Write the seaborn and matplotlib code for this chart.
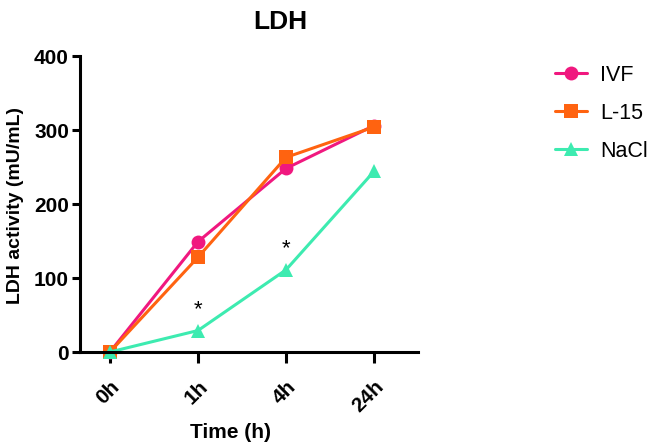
import matplotlib
matplotlib.use("Agg")
import matplotlib.pyplot as plt
import pandas as pd
import seaborn as sns

# Data
times = ["0h", "1h", "4h", "24h"]
ivf = [0, 149, 248, 306]
l15 = [0, 128, 263, 304]
nacl = [0, 29, 111, 244]

groups = ["IVF", "L-15", "NaCl"]
colors = ["#F0187F", "#FF6310", "#3DEBB0"]
markers = ["o", "s", "^"]

# significance marks (time, y)
star_times = ["1h", "4h"]
star_y = [57, 139]

df = pd.DataFrame(
    {
        "time": times * 3,
        "value": ivf + l15 + nacl,
        "group": [g for g in groups for _ in times],
    }
)

sns.set_style("ticks")
plt.rcParams["font.family"] = ["Liberation Sans", "DejaVu Sans"]
plt.rcParams["text.color"] = "black"
plt.rcParams["axes.labelcolor"] = "black"

fig = plt.figure(figsize=(6.57, 4.44), dpi=100)
ax = fig.add_axes([80 / 657, 92 / 444, 338 / 657, 296 / 444])

sns.lineplot(
    data=df,
    x="time",
    y="value",
    hue="group",
    style="group",
    palette=dict(zip(groups, colors)),
    markers=dict(zip(groups, markers)),
    dashes=False,
    markersize=10,
    markeredgewidth=0,
    linewidth=2.2,
    ax=ax,
    clip_on=False,
)

for t, y in zip(star_times, star_y):
    ax.text(times.index(t), y, "*", ha="center", va="center", fontsize=16,
            color="black")

ax.set_xlim(-0.34, 3.5)
ax.set_ylim(0, 400)
ax.set_yticks([0, 100, 200, 300, 400])
ax.set_xticks(range(len(times)))
ax.set_xticklabels(times, rotation=45, ha="right", rotation_mode="anchor")

for lbl in ax.get_xticklabels() + ax.get_yticklabels():
    lbl.set_fontweight("bold")
    lbl.set_fontsize(15)

sns.despine(ax=ax)
for s in ["left", "bottom"]:
    ax.spines[s].set_linewidth(2.2)
    ax.spines[s].set_color("black")
ax.tick_params(axis="both", width=2.2, length=6, colors="black")
ax.tick_params(axis="x", length=8, pad=10)
ax.tick_params(axis="y", pad=2)

ax.set_xlabel("Time (h)", fontsize=15, fontweight="bold", va="center")
ax.xaxis.set_label_coords((230 - 80) / 338, -(432 - 352) / 296)
ax.set_ylabel("LDH activity (mU/mL)", fontsize=14, fontweight="bold",
              va="center")
ax.yaxis.set_label_coords(-(80 - 16) / 338, (352 - 205) / 296)

fig.text(280 / 657, 1 - 22 / 444, "LDH", ha="center", va="center",
         fontsize=19, fontweight="bold")

leg = ax.legend(
    title=None,
    frameon=False,
    loc="upper left",
    bbox_to_anchor=(555 / 657, 1 - 65 / 444),
    bbox_transform=fig.transFigure,
    borderaxespad=0,
    borderpad=0,
    fontsize=15.5,
    handlelength=1.5,
    handletextpad=0.6,
    labelspacing=0.78,
)
for txt in leg.get_texts():
    txt.set_color("black")

fig.savefig("out.png", dpi=100)
